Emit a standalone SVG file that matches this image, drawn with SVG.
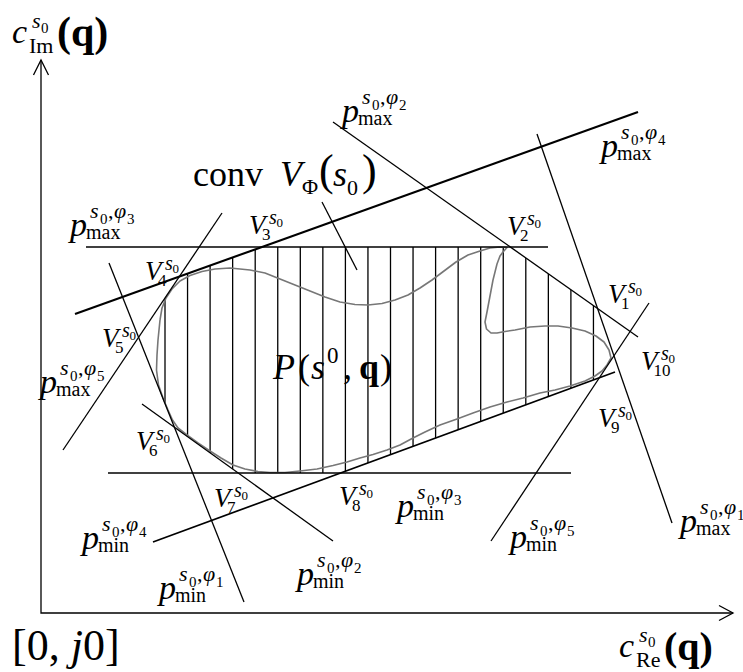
<svg xmlns="http://www.w3.org/2000/svg" width="743" height="672" viewBox="0 0 743 672">
<style>
.t{font-family:"Liberation Serif","Times New Roman",serif;fill:#000}
.i{font-style:italic}
.b{font-weight:bold}
.ln{stroke:#000;stroke-width:1.3;fill:none}
.thick{stroke:#000;stroke-width:2.1;fill:none}
.hatch{stroke:#000;stroke-width:1.3;fill:none}
.curve{stroke:#777;stroke-width:1.6;fill:none;stroke-linejoin:round}
</style>
<defs>
<clipPath id="hull">
<polygon points="179.3,276.6 261.7,247 510.3,247 597.6,308.5 614,355.8 599.4,377.7 340.5,473 238.2,473 174.4,427.2 138.6,337.3"/>
</clipPath>
</defs>
<rect width="743" height="672" fill="#fff"/>

<g id="axes">
<path class="ln" d="M41,60 V613 H733"/>
<path class="ln" d="M33.5,75 L41,60 L48.5,75"/>
<path class="ln" d="M719,605.5 L733,613 L719,620.5"/>
</g>

<g id="hatching" clip-path="url(#hull)">
<path class="hatch" d="M165,240V480 M187.55,240V480 M210.1,240V480 M232.65,240V480 M255.2,240V480 M277.75,240V480 M300.3,240V480 M322.85,240V480 M345.4,240V480 M367.95,240V480 M390.5,240V480 M413.05,240V480 M435.6,240V480 M458.15,240V480 M480.7,240V480 M503.25,240V480 M525.8,240V480 M548.35,240V480 M570.9,240V480 M593.45,240V480"/>
</g>

<g id="region-curve">
<polyline class="curve" points="160,320 162,308 166,298 172,289 180,281 190,275.5 202,271.5 215,269 230,268 250,270 265,273 280,279 295,285 310,291 325,297 340,302 355,304.5 368,305 382,303.5 395,300 408,295 420,288 432,280 444,271 456,262 468,255 480,251 490,248 500,247 507,247.5 503,252 500,256 497,264 493,280 490,296 487,312 485,322 486.5,329 491,333 497,333 505,331.5 515,330 530,327 545,326 558,326 572,328 585,331 596,336 604,342 609,350 611,358 607,365 602,371 595,376 585,381 570,386 555,390 540,393 523,398 507,402 490,407 473,413 457,419 440,425 425,432 413,438 400,445 387,450 373,454.5 360,458 347,462 333,465.5 317,469 300,471 285,472.5 270,472.5 258,471.5 245,469 233,465 221,458 210,451 198,443 187,435 178,428 172.5,420 168,410 163,398 158.5,385 156.5,370 157,355 158,340 160,320"/>
</g>

<g id="connectors">
<line id="Lmax4" class="thick" x1="75" y1="314" x2="638" y2="112"/>
<line id="Lmax3" class="ln" x1="86" y1="247" x2="548" y2="247"/>
<line id="Lmax2" class="ln" x1="333" y1="122" x2="638" y2="337"/>
<line id="Lmax1" class="ln" x1="537" y1="134" x2="672" y2="523"/>
<line id="Lmax5" class="ln" x1="222" y1="213" x2="63" y2="450"/>
<line id="Lmin1" class="ln" x1="109" y1="263" x2="244" y2="602"/>
<line id="Lmin2" class="ln" x1="142" y1="404" x2="333" y2="541"/>
<line id="Lmin3" class="ln" x1="108" y1="473" x2="571" y2="473"/>
<line id="Lmin4" class="ln" style="stroke-width:1.7" x1="153" y1="542" x2="615" y2="372"/>
<line id="Lmin5" class="ln" x1="491" y1="541" x2="649" y2="303"/>
<line id="pointer" class="ln" x1="322" y1="202" x2="357" y2="270"/>
</g>

<g id="axis-label-im">
<text class="t"><tspan class="i" x="12" y="43" font-size="34">c</tspan><tspan class="i" x="32" y="28" font-size="22">s</tspan><tspan x="41" y="33" font-size="15">0</tspan><tspan x="29" y="53" font-size="22">Im</tspan><tspan class="b" x="57" y="46" font-size="42">(q)</tspan></text>
</g>
<g id="axis-label-re" transform="translate(607,614)">
<text class="t"><tspan class="i" x="12" y="43" font-size="34">c</tspan><tspan class="i" x="32" y="28" font-size="22">s</tspan><tspan x="41" y="33" font-size="15">0</tspan><tspan x="29" y="53" font-size="22">Re</tspan><tspan class="b" x="57" y="46" font-size="40">(q)</tspan></text>
</g>
<g id="origin-label">
<text class="t" x="12" y="660" font-size="44">[0, <tspan class="i">j</tspan>0]</text>
</g>

<g id="conv-label">
<text class="t"><tspan x="193" y="186" font-size="36">conv</tspan><tspan class="i" x="280" y="186" font-size="36">V</tspan><tspan x="302" y="194" font-size="22">Φ</tspan><tspan x="319" y="185" font-size="44">(</tspan><tspan class="i" x="333" y="186" font-size="36">s</tspan><tspan x="347" y="195" font-size="22">0</tspan><tspan x="362" y="185" font-size="44">)</tspan></text>
</g>

<g id="P-label">
<text class="t"><tspan class="i" x="273" y="379" font-size="36">P</tspan><tspan x="298" y="379" font-size="36">(</tspan><tspan class="i" x="311" y="379" font-size="36">s</tspan><tspan x="327" y="363" font-size="23">0</tspan><tspan x="343" y="379" font-size="36">,</tspan><tspan class="b" x="359" y="379" font-size="36">q</tspan><tspan x="380" y="379" font-size="36">)</tspan></text>
</g>

<g id="pmax2" transform="translate(342,122)"><text class="t"><tspan class="i" x="0" y="0" font-size="34">p</tspan><tspan x="16" y="3" font-size="20">max</tspan><tspan class="i" x="20" y="-18" font-size="22">s</tspan><tspan x="30" y="-12" font-size="15">0</tspan><tspan x="38" y="-18" font-size="22">,</tspan><tspan class="i" x="44" y="-18" font-size="22">φ</tspan><tspan x="57" y="-12" font-size="15">2</tspan></text></g>
<g id="pmax4" transform="translate(601,157)"><text class="t"><tspan class="i" x="0" y="0" font-size="34">p</tspan><tspan x="16" y="3" font-size="20">max</tspan><tspan class="i" x="20" y="-18" font-size="22">s</tspan><tspan x="30" y="-12" font-size="15">0</tspan><tspan x="38" y="-18" font-size="22">,</tspan><tspan class="i" x="44" y="-18" font-size="22">φ</tspan><tspan x="57" y="-12" font-size="15">4</tspan></text></g>
<g id="pmax3" transform="translate(70,236)"><text class="t"><tspan class="i" x="0" y="0" font-size="34">p</tspan><tspan x="16" y="3" font-size="20">max</tspan><tspan class="i" x="20" y="-18" font-size="22">s</tspan><tspan x="30" y="-12" font-size="15">0</tspan><tspan x="38" y="-18" font-size="22">,</tspan><tspan class="i" x="44" y="-18" font-size="22">φ</tspan><tspan x="57" y="-12" font-size="15">3</tspan></text></g>
<g id="pmax5" transform="translate(40,393)"><text class="t"><tspan class="i" x="0" y="0" font-size="34">p</tspan><tspan x="16" y="3" font-size="20">max</tspan><tspan class="i" x="20" y="-18" font-size="22">s</tspan><tspan x="30" y="-12" font-size="15">0</tspan><tspan x="38" y="-18" font-size="22">,</tspan><tspan class="i" x="44" y="-18" font-size="22">φ</tspan><tspan x="57" y="-12" font-size="15">5</tspan></text></g>
<g id="pmax1" transform="translate(680,532)"><text class="t"><tspan class="i" x="0" y="0" font-size="34">p</tspan><tspan x="16" y="3" font-size="20">max</tspan><tspan class="i" x="20" y="-18" font-size="22">s</tspan><tspan x="30" y="-12" font-size="15">0</tspan><tspan x="38" y="-18" font-size="22">,</tspan><tspan class="i" x="44" y="-18" font-size="22">φ</tspan><tspan x="57" y="-12" font-size="15">1</tspan></text></g>
<g id="pmin3" transform="translate(397,517)"><text class="t"><tspan class="i" x="0" y="0" font-size="34">p</tspan><tspan x="16" y="3" font-size="20">min</tspan><tspan class="i" x="20" y="-18" font-size="22">s</tspan><tspan x="30" y="-12" font-size="15">0</tspan><tspan x="38" y="-18" font-size="22">,</tspan><tspan class="i" x="44" y="-18" font-size="22">φ</tspan><tspan x="57" y="-12" font-size="15">3</tspan></text></g>
<g id="pmin5" transform="translate(510,548)"><text class="t"><tspan class="i" x="0" y="0" font-size="34">p</tspan><tspan x="16" y="3" font-size="20">min</tspan><tspan class="i" x="20" y="-18" font-size="22">s</tspan><tspan x="30" y="-12" font-size="15">0</tspan><tspan x="38" y="-18" font-size="22">,</tspan><tspan class="i" x="44" y="-18" font-size="22">φ</tspan><tspan x="57" y="-12" font-size="15">5</tspan></text></g>
<g id="pmin4" transform="translate(82,549)"><text class="t"><tspan class="i" x="0" y="0" font-size="34">p</tspan><tspan x="16" y="3" font-size="20">min</tspan><tspan class="i" x="20" y="-18" font-size="22">s</tspan><tspan x="30" y="-12" font-size="15">0</tspan><tspan x="38" y="-18" font-size="22">,</tspan><tspan class="i" x="44" y="-18" font-size="22">φ</tspan><tspan x="57" y="-12" font-size="15">4</tspan></text></g>
<g id="pmin1" transform="translate(159,599)"><text class="t"><tspan class="i" x="0" y="0" font-size="34">p</tspan><tspan x="16" y="3" font-size="20">min</tspan><tspan class="i" x="20" y="-18" font-size="22">s</tspan><tspan x="30" y="-12" font-size="15">0</tspan><tspan x="38" y="-18" font-size="22">,</tspan><tspan class="i" x="44" y="-18" font-size="22">φ</tspan><tspan x="57" y="-12" font-size="15">1</tspan></text></g>
<g id="pmin2" transform="translate(297,585)"><text class="t"><tspan class="i" x="0" y="0" font-size="34">p</tspan><tspan x="16" y="3" font-size="20">min</tspan><tspan class="i" x="20" y="-18" font-size="22">s</tspan><tspan x="30" y="-12" font-size="15">0</tspan><tspan x="38" y="-18" font-size="22">,</tspan><tspan class="i" x="44" y="-18" font-size="22">φ</tspan><tspan x="57" y="-12" font-size="15">2</tspan></text></g>

<g id="V1" transform="translate(608,303)"><text class="t"><tspan class="i" x="0" y="0" font-size="27">V</tspan><tspan x="13" y="6" font-size="17">1</tspan><tspan class="i" x="20" y="-10" font-size="20">s</tspan><tspan x="27.5" y="-7" font-size="13">0</tspan></text></g>
<g id="V2" transform="translate(507,235)"><text class="t"><tspan class="i" x="0" y="0" font-size="27">V</tspan><tspan x="13" y="6" font-size="17">2</tspan><tspan class="i" x="20" y="-10" font-size="20">s</tspan><tspan x="27.5" y="-7" font-size="13">0</tspan></text></g>
<g id="V3" transform="translate(249,234)"><text class="t"><tspan class="i" x="0" y="0" font-size="27">V</tspan><tspan x="13" y="6" font-size="17">3</tspan><tspan class="i" x="20" y="-10" font-size="20">s</tspan><tspan x="27.5" y="-7" font-size="13">0</tspan></text></g>
<g id="V4" transform="translate(145,280)"><text class="t"><tspan class="i" x="0" y="0" font-size="27">V</tspan><tspan x="13" y="6" font-size="17">4</tspan><tspan class="i" x="20" y="-10" font-size="20">s</tspan><tspan x="27.5" y="-7" font-size="13">0</tspan></text></g>
<g id="V5" transform="translate(102,347)"><text class="t"><tspan class="i" x="0" y="0" font-size="27">V</tspan><tspan x="13" y="6" font-size="17">5</tspan><tspan class="i" x="20" y="-10" font-size="20">s</tspan><tspan x="27.5" y="-7" font-size="13">0</tspan></text></g>
<g id="V6" transform="translate(136,450)"><text class="t"><tspan class="i" x="0" y="0" font-size="27">V</tspan><tspan x="13" y="6" font-size="17">6</tspan><tspan class="i" x="20" y="-10" font-size="20">s</tspan><tspan x="27.5" y="-7" font-size="13">0</tspan></text></g>
<g id="V7" transform="translate(214,507)"><text class="t"><tspan class="i" x="0" y="0" font-size="27">V</tspan><tspan x="13" y="6" font-size="17">7</tspan><tspan class="i" x="20" y="-10" font-size="20">s</tspan><tspan x="27.5" y="-7" font-size="13">0</tspan></text></g>
<g id="V8" transform="translate(339,505)"><text class="t"><tspan class="i" x="0" y="0" font-size="27">V</tspan><tspan x="13" y="6" font-size="17">8</tspan><tspan class="i" x="20" y="-10" font-size="20">s</tspan><tspan x="27.5" y="-7" font-size="13">0</tspan></text></g>
<g id="V9" transform="translate(598,427)"><text class="t"><tspan class="i" x="0" y="0" font-size="27">V</tspan><tspan x="13" y="6" font-size="17">9</tspan><tspan class="i" x="20" y="-10" font-size="20">s</tspan><tspan x="27.5" y="-7" font-size="13">0</tspan></text></g>
<g id="V10" transform="translate(641,370)"><text class="t"><tspan class="i" x="0" y="0" font-size="27">V</tspan><tspan x="12.5" y="6" font-size="17">10</tspan><tspan class="i" x="20" y="-10" font-size="20">s</tspan><tspan x="27.5" y="-7" font-size="13">0</tspan></text></g>
</svg>
